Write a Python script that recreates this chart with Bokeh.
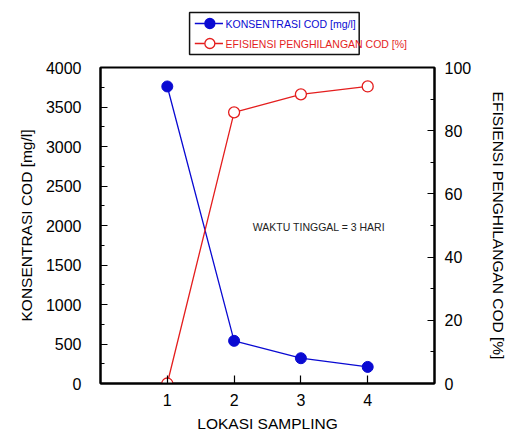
from bokeh.plotting import figure
from bokeh.models import Range1d, LinearAxis, FixedTicker, Label
from bokeh.layouts import column
from bokeh.embed import file_html
from bokeh.resources import INLINE
from bokeh.core.properties import value

# ---- data ----
lokasi = [1, 2, 3, 4]
konsentrasi_cod = [3760, 540, 320, 210]
efisiensi = [0, 85.8, 91.5, 94.0]
x_ticks = [1, 2, 3, 4]
left_ticks = [0, 500, 1000, 1500, 2000, 2500, 3000, 3500, 4000]
left_minor = [0, 250, 500, 750, 1000, 1250, 1500, 1750, 2000, 2250, 2500,
              2750, 3000, 3250, 3500, 3750, 4000]
right_ticks = [0, 20, 40, 60, 80, 100]
right_minor = [0, 10, 20, 30, 40, 50, 60, 70, 80, 90, 100]
series_names = ["KONSENTRASI COD [mg/l]", "EFISIENSI PENGHILANGAN COD [%]"]
x_label = "LOKASI SAMPLING"
left_label = "KONSENTRASI COD [mg/l]"
right_label = "EFISIENSI PENGHILANGAN COD [%]"
note = "WAKTU TINGGAL = 3 HARI"

BLUE = "#0a0ad2"
RED = "#e41e1e"
FONT = "Liberation Sans"

# ---- main plot ----
p = figure(width=510, height=377, x_range=Range1d(0, 5), y_range=Range1d(0, 4000),
           output_backend="svg", toolbar_location=None,
           min_border_left=100, min_border_right=73, min_border_top=7,
           min_border_bottom=54)
p.extra_y_ranges = {"pct": Range1d(0, 100)}
p.grid.visible = False
p.outline_line_color = "black"
p.outline_line_width = 2
p.outline_line_alpha = 1
p.background_fill_color = "white"
p.border_fill_color = "white"

right = LinearAxis(y_range_name="pct", ticker=FixedTicker(ticks=right_ticks, minor_ticks=right_minor))
p.add_layout(right, "right")

p.xaxis.ticker = FixedTicker(ticks=x_ticks, minor_ticks=[])
p.yaxis[0].ticker = FixedTicker(ticks=left_ticks, minor_ticks=left_minor)

for ax in p.axis:
    ax.axis_line_width = 2
    ax.axis_line_color = "black"
    ax.major_tick_line_color = "black"
    ax.minor_tick_line_color = "black"
    ax.major_tick_line_width = 1.2
    ax.minor_tick_line_width = 1.2
    ax.major_tick_out = 0
    ax.minor_tick_out = 0
    ax.major_tick_in = 7
    ax.minor_tick_in = 4
    ax.major_label_text_font = FONT
    ax.major_label_text_font_size = "16px"
    ax.major_label_text_color = "black"
    ax.axis_label_text_font = FONT
    ax.axis_label_text_font_size = "15.5px"
    ax.axis_label_text_font_style = "normal"
    ax.axis_label_text_color = "black"

p.xaxis.major_tick_in = 8
p.xaxis.minor_tick_in = 0
p.xaxis.major_label_standoff = 10
p.xaxis.axis_label_standoff = 6
p.xaxis.axis_label = x_label

p.yaxis[0].axis_label = left_label
p.yaxis[0].major_label_standoff = 19
p.yaxis[0].axis_label_standoff = 8

right.axis_label = right_label
right.major_label_standoff = 10
right.axis_label_standoff = 16

p.line(lokasi, konsentrasi_cod, color=BLUE, line_width=1.3)
p.scatter(lokasi, konsentrasi_cod, size=11, fill_color=BLUE, line_color=BLUE)
p.line(lokasi, efisiensi, y_range_name="pct", color=RED, line_width=1.3)
p.scatter(lokasi, efisiensi, y_range_name="pct", size=11, fill_color="white",
          line_color=RED, line_width=1.3)

p.add_layout(Label(x=2.28, y=1975, text=note, text_font=FONT, text_font_size="10.5px",
                   text_baseline="middle", text_color="#222222"))

# ---- legend panel ----
lg = figure(width=510, height=60, x_range=Range1d(0, 510), y_range=Range1d(60, 0),
            output_backend="svg", toolbar_location=None, x_axis_type=None,
            y_axis_type=None, min_border=0)
lg.grid.visible = False
lg.outline_line_color = None
lg.quad(left=[136], right=[395], top=[12], bottom=[54], fill_color=None,
        line_color="#111111", line_width=1.5)
styles = [(BLUE, BLUE), (RED, "white")]
for i, (name, (col, fill)) in enumerate(zip(series_names, styles)):
    yy = 23 + 20 * i
    lg.line([144, 187], [yy, yy], color=col, line_width=1.3)
    lg.scatter([167], [yy], size=10, fill_color=fill, line_color=col, line_width=1.3)
    lg.text(x=[191], y=[yy], text=[name], text_font=value(FONT), text_font_size="10.5px",
            text_baseline="middle", text_color=col)

layout = column(lg, p)
open("out.html", "w").write(file_html(layout, INLINE))
